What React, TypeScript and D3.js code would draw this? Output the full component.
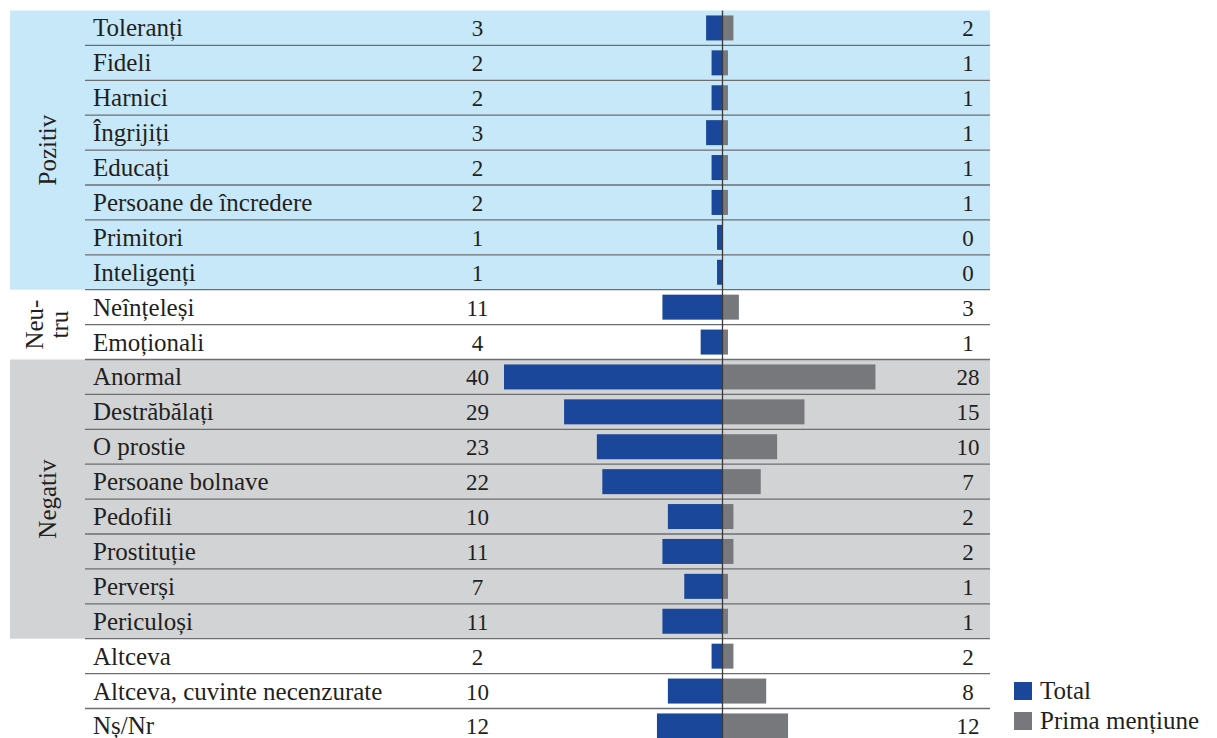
import React from "react";
import * as d3 from "d3";

const categories = [
  "Toleranți", "Fideli", "Harnici", "Îngrijiți", "Educați", "Persoane de încredere",
  "Primitori", "Inteligenți", "Neînțeleși", "Emoționali", "Anormal", "Destrăbălați",
  "O prostie", "Persoane bolnave", "Pedofili", "Prostituție", "Perverși", "Periculoși",
  "Altceva", "Altceva, cuvinte necenzurate", "Nș/Nr",
];
const totalValues = [3, 2, 2, 3, 2, 2, 1, 1, 11, 4, 40, 29, 23, 22, 10, 11, 7, 11, 2, 10, 12];
const primaValues = [2, 1, 1, 1, 1, 1, 0, 0, 3, 1, 28, 15, 10, 7, 2, 2, 1, 1, 2, 8, 12];
const groups = [
  { name: ["Pozitiv"], start: 0, end: 7, fill: "#c7e8f8" },
  { name: ["Neu-", "tru"], start: 8, end: 9, fill: "none" },
  { name: ["Negativ"], start: 10, end: 17, fill: "#d2d3d5" },
];
const legendItems = ["Total", "Prima mențiune"];

const W = 1217, H = 738;
const BLUE = "#1a4799";
const GREY = "#77787b";
const LINE = "#6d6e71";
const FONT = "'Liberation Serif', 'DejaVu Serif', serif";

export default function App() {
  const rowH = 34.9;
  const top = 10.5;
  const y = d3.scaleBand<number>()
    .domain(categories.map((_, i) => i))
    .range([top, top + rowH * categories.length])
    .padding(0);
  const center = 722.5;
  const xL = d3.scaleLinear().domain([0, 40]).range([center, center - 218.5]);
  const xR = d3.scaleLinear().domain([0, 40]).range([center, center + 218.5]);
  const barH = 25;
  const bandL = 10, bandR = 990, lineL = 85;
  const fs = 25;

  return (
    <svg width={W} height={H} style={{ position: "absolute", left: 0, top: 0, background: "#fff" }}
      fontFamily={FONT}>
      {groups.map((g, gi) => g.fill !== "none" && (
        <rect key={"b" + gi} x={bandL} y={y(g.start)!} width={bandR - bandL}
          height={y(g.end)! + y.bandwidth() - y(g.start)!} fill={g.fill} />
      ))}
      {categories.map((c, i) => {
        const y0 = y(i)!;
        const cy = y0 + y.bandwidth() / 2;
        return (
          <g key={c}>
            <text x={93} y={cy + 8.5} fontSize={fs} fill="#231f20">{c}</text>
            <text x={477.5} y={cy + 8.5} fontSize={23} fill="#231f20" textAnchor="middle">{totalValues[i]}</text>
            <text x={968} y={cy + 8.5} fontSize={23} fill="#231f20" textAnchor="middle">{primaValues[i]}</text>
            {totalValues[i] > 0 && (
              <rect x={xL(totalValues[i])} y={cy - barH / 2} width={center - xL(totalValues[i])} height={barH} fill={BLUE} />
            )}
            {primaValues[i] > 0 && (
              <rect x={center} y={cy - barH / 2} width={xR(primaValues[i]) - center} height={barH} fill={GREY} />
            )}
            <line x1={lineL} x2={bandR} y1={y0 + y.bandwidth()} y2={y0 + y.bandwidth()} stroke={LINE} strokeWidth={1.3} />
          </g>
        );
      })}
      <line x1={center} x2={center} y1={top} y2={H} stroke="#3a3a3c" strokeWidth={1.3} />
      {groups.map((g, gi) => {
        const cy = (y(g.start)! + y(g.end)! + y.bandwidth()) / 2;
        const n = g.name.length;
        return g.name.map((t, ti) => {
          const cx = 47 + (ti - (n - 1) / 2) * 25;
          return (
            <text key={"g" + gi + ti} transform={`translate(${cx},${cy}) rotate(-90)`} textAnchor="middle"
              dominantBaseline="central" fontSize={fs} fill="#231f20">{t}</text>
          );
        });
      })}
      {legendItems.map((l, i) => (
        <g key={l} transform={`translate(1014,${682 + i * 30})`}>
          <rect x={0} y={0} width={18} height={18} fill={i === 0 ? BLUE : GREY} />
          <text x={26} y={17} fontSize={fs} fill="#231f20">{l}</text>
        </g>
      ))}
    </svg>
  );
}
